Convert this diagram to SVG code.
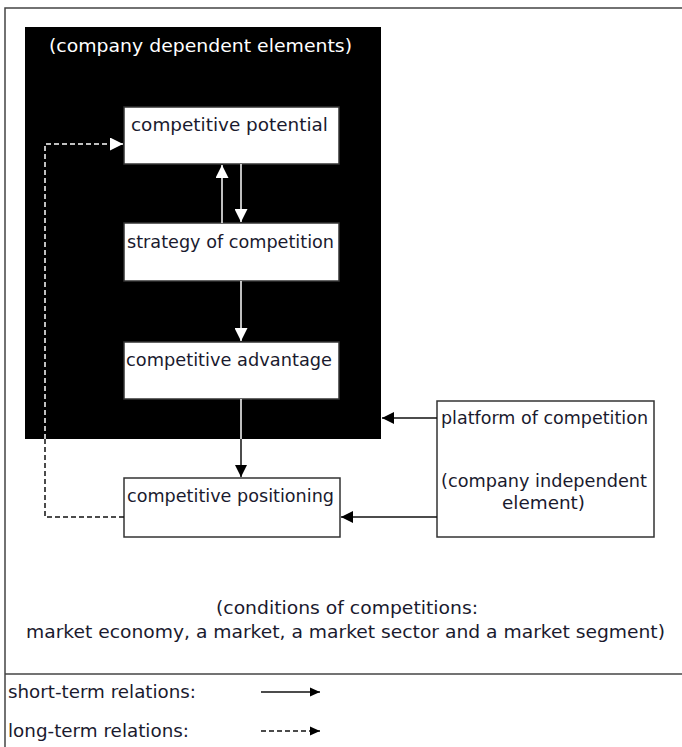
<svg xmlns="http://www.w3.org/2000/svg" width="682" height="747" viewBox="0 0 682 747">
<defs>
<marker id="ab" markerUnits="userSpaceOnUse" markerWidth="12" markerHeight="12" refX="12" refY="6" orient="auto"><path d="M0,0 L12,6 L0,12 z" fill="#000"/></marker>
<marker id="aw" markerUnits="userSpaceOnUse" markerWidth="13" markerHeight="13" refX="13" refY="6.5" orient="auto"><path d="M0,0 L13,6.5 L0,13 z" fill="#fff"/></marker>
<marker id="al" markerUnits="userSpaceOnUse" markerWidth="10" markerHeight="10" refX="10" refY="5" orient="auto"><path d="M0,0.5 L10,5 L0,9.5 z" fill="#000"/></marker>
</defs>
<style>
text{font-family:"DejaVu Sans","Liberation Sans",sans-serif;font-size:17px;fill:#1a1a2e}
.w{fill:#fff}
.box{fill:#fff;stroke:#333;stroke-width:1.5}
.lb{stroke:#111;stroke-width:1.5;fill:none}
.lw{stroke:#fff;stroke-width:1.5;fill:none}
.d{stroke-dasharray:5 3}
</style>
<rect x="0" y="0" width="682" height="747" fill="#fff"/>
<path d="M682,8 H5 V747" fill="none" stroke="#444" stroke-width="1.5"/>
<line x1="5" y1="674" x2="682" y2="674" stroke="#444" stroke-width="1.5"/>
<g id="company-dependent">
<rect x="25" y="27" width="356" height="412" fill="#000"/>
<text class="w" x="49" y="52" textLength="303" lengthAdjust="spacingAndGlyphs">(company dependent elements)</text>
</g>
<g id="potential">
<rect class="box" x="124" y="107" width="215" height="57" stroke="#fff"/>
<text x="131" y="131" textLength="197" lengthAdjust="spacingAndGlyphs">competitive potential</text>
</g>
<g id="strategy">
<rect class="box" x="124" y="223" width="215" height="58" stroke="#fff"/>
<text x="127" y="248" textLength="207" lengthAdjust="spacingAndGlyphs">strategy of competition</text>
</g>
<g id="advantage">
<rect class="box" x="124" y="342" width="215" height="57" stroke="#fff"/>
<text x="126" y="366" textLength="206" lengthAdjust="spacingAndGlyphs">competitive advantage</text>
</g>
<g id="positioning">
<rect class="box" x="124" y="478" width="216" height="59"/>
<text x="127" y="502" textLength="207" lengthAdjust="spacingAndGlyphs">competitive positioning</text>
</g>
<g id="platform">
<rect class="box" x="437" y="401" width="217" height="136"/>
<text x="441" y="424" textLength="207" lengthAdjust="spacingAndGlyphs">platform of competition</text>
<text x="441" y="487" textLength="206" lengthAdjust="spacingAndGlyphs">(company independent</text>
<text x="502" y="509" textLength="83" lengthAdjust="spacingAndGlyphs">element)</text>
</g>
<g id="connectors">
<line class="lw" x1="222" y1="223" x2="222" y2="165" marker-end="url(#aw)"/>
<line class="lw" x1="241" y1="164" x2="241" y2="222" marker-end="url(#aw)"/>
<line class="lw" x1="241" y1="281" x2="241" y2="341" marker-end="url(#aw)"/>
<line class="lw" x1="241" y1="399" x2="241" y2="439"/>
<line class="lb" x1="241" y1="439" x2="241" y2="477" marker-end="url(#ab)"/>
<line class="lb" x1="437" y1="418" x2="382" y2="418" marker-end="url(#ab)"/>
<line class="lb" x1="437" y1="517" x2="341" y2="517" marker-end="url(#ab)"/>
<path class="lb d" d="M124,517 H45 V439"/>
<path class="lw d" d="M45,439 V144 H123" marker-end="url(#aw)"/>
</g>
<g id="conditions">
<text x="216" y="614" textLength="262" lengthAdjust="spacingAndGlyphs">(conditions of competitions:</text>
<text x="26" y="638" textLength="639" lengthAdjust="spacingAndGlyphs">market economy, a market, a market sector and a market segment)</text>
</g>
<g id="legend">
<text x="8" y="698" textLength="188" lengthAdjust="spacingAndGlyphs">short-term relations:</text>
<line class="lb" x1="261" y1="692" x2="320" y2="692" marker-end="url(#al)"/>
<text x="8" y="737" textLength="181" lengthAdjust="spacingAndGlyphs">long-term relations:</text>
<line class="lb d" x1="261" y1="731" x2="320" y2="731" stroke-dasharray="4 3" marker-end="url(#al)"/>
</g>
</svg>
